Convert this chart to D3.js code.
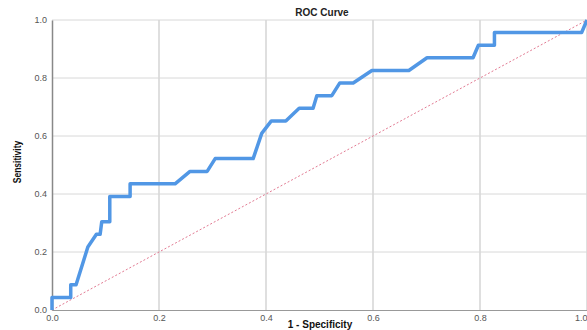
<!DOCTYPE html>
<html>
<head>
<meta charset="utf-8">
<script src="https://cdn.jsdelivr.net/npm/d3@7"></script>
<style>
  body { margin: 0; background: #fff; }
  svg { display: block; font-family: "Liberation Sans", Arial, sans-serif; }
</style>
</head>
<body>
<svg id="roc"></svg>
<script>
// ROC curve points (1 - specificity, sensitivity)
var fpr = [0, 0, 0.035, 0.035, 0.045, 0.067, 0.083, 0.09, 0.093, 0.108, 0.108, 0.146, 0.146, 0.23, 0.258, 0.29, 0.305, 0.376, 0.392, 0.41, 0.437, 0.462, 0.488, 0.495, 0.523, 0.538, 0.563, 0.598, 0.667, 0.701, 0.787, 0.797, 0.827, 0.827, 0.99, 1];
var tpr = [0, 0.043, 0.043, 0.087, 0.087, 0.217, 0.261, 0.261, 0.304, 0.304, 0.391, 0.391, 0.435, 0.435, 0.478, 0.478, 0.522, 0.522, 0.609, 0.652, 0.652, 0.696, 0.696, 0.739, 0.739, 0.783, 0.783, 0.826, 0.826, 0.870, 0.870, 0.913, 0.913, 0.957, 0.957, 1];
var refLine = [0, 1];
var ticks = [0, 0.2, 0.4, 0.6, 0.8, 1.0];

var width = 587, height = 330;
var margin = { top: 20, right: 0, bottom: 20, left: 52 };

var svg = d3.select("#roc")
    .attr("width", width)
    .attr("height", height);

var x = d3.scaleLinear().domain([0, 1]).range([margin.left, width - margin.right]);
var y = d3.scaleLinear().domain([0, 1]).range([height - margin.bottom, margin.top]);

// grid lines
svg.append("g")
    .selectAll("line")
    .data(ticks.slice(1))
    .enter()
    .append("line")
    .attr("x1", d => x(d)).attr("x2", d => x(d))
    .attr("y1", y(0)).attr("y2", y(1))
    .attr("stroke", "#d4d4d4")
    .attr("stroke-width", 1.5);

svg.append("g")
    .selectAll("line")
    .data(ticks.slice(1))
    .enter()
    .append("line")
    .attr("x1", x(0)).attr("x2", x(1))
    .attr("y1", d => y(d)).attr("y2", d => y(d))
    .attr("stroke", "#d8d8d8")
    .attr("stroke-width", 1);

// axes
var xAxis = svg.append("g")
    .attr("transform", "translate(0," + y(0) + ")")
    .call(d3.axisBottom(x).tickValues(ticks).tickFormat(d3.format(".1f")).tickSize(0).tickPadding(5));
var yAxis = svg.append("g")
    .attr("transform", "translate(" + x(0) + ",0)")
    .call(d3.axisLeft(y).tickValues(ticks).tickFormat(d3.format(".1f")).tickSize(0).tickPadding(5));

xAxis.select(".domain").attr("stroke", "#999").attr("stroke-width", 1.2);
yAxis.select(".domain").attr("stroke", "#888").attr("stroke-width", 1.5);
svg.selectAll(".tick text")
    .attr("fill", "#555")
    .style("font-size", "9px")
    .style("font-family", "'Liberation Sans', Arial, sans-serif");

// last x label sits on the right edge, keep it inside
xAxis.selectAll(".tick text")
    .filter(d => d === 1)
    .attr("text-anchor", "end");

// reference diagonal
svg.append("line")
    .attr("x1", x(refLine[0])).attr("y1", y(refLine[0]))
    .attr("x2", x(refLine[1])).attr("y2", y(refLine[1]))
    .attr("stroke", "#e27a92")
    .attr("stroke-width", 1)
    .attr("stroke-dasharray", "2,2");

// the curve
var pts = fpr.map((d, i) => [d, tpr[i]]);
var line = d3.line()
    .x(d => x(d[0]))
    .y(d => y(d[1]));

svg.append("path")
    .attr("d", line(pts))
    .attr("fill", "none")
    .attr("stroke", "#5197e5")
    .attr("stroke-width", 3.5)
    .attr("stroke-linejoin", "round");

// title and labels
svg.append("text")
    .attr("x", 322).attr("y", 16)
    .attr("text-anchor", "middle")
    .style("font-size", "10px")
    .style("font-weight", "bold")
    .attr("fill", "#222")
    .text("ROC Curve");

svg.append("text")
    .attr("x", 320).attr("y", 328)
    .attr("text-anchor", "middle")
    .style("font-size", "10px")
    .style("font-weight", "bold")
    .attr("fill", "#111")
    .text("1 - Specificity");

svg.append("text")
    .attr("transform", "translate(21,162) rotate(-90) scale(0.85,1)")
    .attr("text-anchor", "middle")
    .style("font-size", "10px")
    .style("font-weight", "bold")
    .attr("fill", "#111")
    .text("Sensitivity");
</script>
</body>
</html>
